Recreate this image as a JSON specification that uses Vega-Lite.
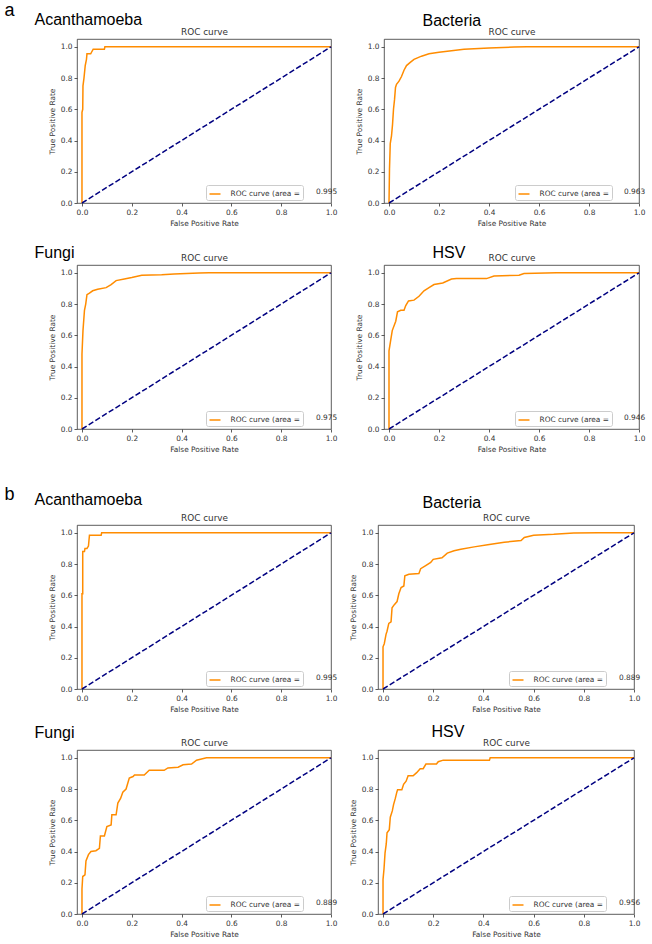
{
  "$schema": "https://vega.github.io/schema/vega-lite/v6.json",
  "padding": {"left": 3, "top": 0, "right": 0, "bottom": 0},
  "background": "white",
  "config": {
    "view": {"stroke": "#333", "strokeWidth": 0.8},
    "axis": {"grid": false, "domain": false, "labelFont": "DejaVu Sans", "labelFontSize": 7.4, "labelColor": "#333", "tickColor": "#333", "tickWidth": 0.8, "tickSize": 3, "labelPadding": 2, "titleFont": "DejaVu Sans", "titleFontSize": 7.4, "titleFontWeight": "normal", "titleColor": "#333", "titlePadding": 4, "labelFlush": false, "labelOverlap": false},
    "legend": {"symbolType": "stroke", "symbolSize": 121, "symbolStrokeWidth": 1.5, "labelFont": "DejaVu Sans", "labelFontSize": 7.4, "labelColor": "#333", "padding": 2.5, "strokeColor": "#ccc", "fillColor": "#fff", "cornerRadius": 2, "labelOffset": 9}
  },
  "datasets": {
    "chance": [{"fpr": 0, "tpr": 0}, {"fpr": 1, "tpr": 1}],
    "auc": [
      {"set": "a", "panel": "Acanthamoeba", "auc": 0.995},
      {"set": "a", "panel": "Bacteria", "auc": 0.963},
      {"set": "a", "panel": "Fungi", "auc": 0.975},
      {"set": "a", "panel": "HSV", "auc": 0.946},
      {"set": "b", "panel": "Acanthamoeba", "auc": 0.995},
      {"set": "b", "panel": "Bacteria", "auc": 0.889},
      {"set": "b", "panel": "Fungi", "auc": 0.889},
      {"set": "b", "panel": "HSV", "auc": 0.956}
    ],
    "aAcan": [{"fpr":0,"tpr":0},{"fpr":0,"tpr":0.58},{"fpr":0.003,"tpr":0.6},{"fpr":0.004,"tpr":0.75},{"fpr":0.008,"tpr":0.8},{"fpr":0.013,"tpr":0.88},{"fpr":0.018,"tpr":0.92},{"fpr":0.02,"tpr":0.955},{"fpr":0.035,"tpr":0.955},{"fpr":0.04,"tpr":0.97},{"fpr":0.045,"tpr":0.985},{"fpr":0.09,"tpr":0.985},{"fpr":0.092,"tpr":1},{"fpr":1,"tpr":1}],
    "aBact": [{"fpr":0,"tpr":0},{"fpr":0.002,"tpr":0.22},{"fpr":0.005,"tpr":0.38},{"fpr":0.01,"tpr":0.43},{"fpr":0.014,"tpr":0.5},{"fpr":0.018,"tpr":0.6},{"fpr":0.022,"tpr":0.66},{"fpr":0.026,"tpr":0.74},{"fpr":0.03,"tpr":0.76},{"fpr":0.04,"tpr":0.78},{"fpr":0.05,"tpr":0.81},{"fpr":0.06,"tpr":0.85},{"fpr":0.07,"tpr":0.88},{"fpr":0.085,"tpr":0.9},{"fpr":0.1,"tpr":0.92},{"fpr":0.13,"tpr":0.94},{"fpr":0.16,"tpr":0.955},{"fpr":0.2,"tpr":0.965},{"fpr":0.25,"tpr":0.975},{"fpr":0.3,"tpr":0.985},{"fpr":0.4,"tpr":0.993},{"fpr":0.5,"tpr":0.998},{"fpr":0.55,"tpr":1},{"fpr":1,"tpr":1}],
    "aFungi": [{"fpr":0,"tpr":0},{"fpr":0,"tpr":0.48},{"fpr":0.004,"tpr":0.63},{"fpr":0.01,"tpr":0.76},{"fpr":0.015,"tpr":0.8},{"fpr":0.02,"tpr":0.86},{"fpr":0.03,"tpr":0.87},{"fpr":0.043,"tpr":0.885},{"fpr":0.063,"tpr":0.895},{"fpr":0.097,"tpr":0.905},{"fpr":0.117,"tpr":0.925},{"fpr":0.137,"tpr":0.95},{"fpr":0.17,"tpr":0.96},{"fpr":0.2,"tpr":0.97},{"fpr":0.24,"tpr":0.985},{"fpr":0.32,"tpr":0.987},{"fpr":0.37,"tpr":0.992},{"fpr":0.47,"tpr":0.998},{"fpr":0.51,"tpr":1},{"fpr":1,"tpr":1}],
    "aHSV": [{"fpr":0,"tpr":0},{"fpr":0,"tpr":0.5},{"fpr":0.007,"tpr":0.57},{"fpr":0.013,"tpr":0.63},{"fpr":0.027,"tpr":0.69},{"fpr":0.034,"tpr":0.75},{"fpr":0.047,"tpr":0.76},{"fpr":0.06,"tpr":0.76},{"fpr":0.067,"tpr":0.79},{"fpr":0.078,"tpr":0.82},{"fpr":0.1,"tpr":0.825},{"fpr":0.12,"tpr":0.85},{"fpr":0.14,"tpr":0.885},{"fpr":0.16,"tpr":0.905},{"fpr":0.18,"tpr":0.925},{"fpr":0.215,"tpr":0.935},{"fpr":0.25,"tpr":0.96},{"fpr":0.27,"tpr":0.963},{"fpr":0.39,"tpr":0.963},{"fpr":0.42,"tpr":0.98},{"fpr":0.52,"tpr":0.985},{"fpr":0.54,"tpr":0.995},{"fpr":0.67,"tpr":1},{"fpr":1,"tpr":1}],
    "bAcan": [{"fpr":0,"tpr":0},{"fpr":0,"tpr":0.61},{"fpr":0.003,"tpr":0.61},{"fpr":0.003,"tpr":0.88},{"fpr":0.01,"tpr":0.88},{"fpr":0.012,"tpr":0.9},{"fpr":0.02,"tpr":0.9},{"fpr":0.026,"tpr":0.915},{"fpr":0.03,"tpr":0.985},{"fpr":0.077,"tpr":0.985},{"fpr":0.079,"tpr":1},{"fpr":1,"tpr":1}],
    "bBact": [{"fpr":0,"tpr":0},{"fpr":0,"tpr":0.27},{"fpr":0.005,"tpr":0.29},{"fpr":0.012,"tpr":0.35},{"fpr":0.016,"tpr":0.37},{"fpr":0.023,"tpr":0.42},{"fpr":0.032,"tpr":0.43},{"fpr":0.036,"tpr":0.52},{"fpr":0.045,"tpr":0.54},{"fpr":0.056,"tpr":0.56},{"fpr":0.063,"tpr":0.61},{"fpr":0.072,"tpr":0.65},{"fpr":0.083,"tpr":0.66},{"fpr":0.087,"tpr":0.725},{"fpr":0.103,"tpr":0.735},{"fpr":0.143,"tpr":0.74},{"fpr":0.15,"tpr":0.77},{"fpr":0.17,"tpr":0.79},{"fpr":0.19,"tpr":0.81},{"fpr":0.2,"tpr":0.83},{"fpr":0.235,"tpr":0.84},{"fpr":0.256,"tpr":0.87},{"fpr":0.283,"tpr":0.885},{"fpr":0.31,"tpr":0.895},{"fpr":0.363,"tpr":0.91},{"fpr":0.417,"tpr":0.923},{"fpr":0.483,"tpr":0.94},{"fpr":0.55,"tpr":0.95},{"fpr":0.563,"tpr":0.97},{"fpr":0.6,"tpr":0.985},{"fpr":0.68,"tpr":0.99},{"fpr":0.76,"tpr":0.998},{"fpr":0.857,"tpr":1},{"fpr":1,"tpr":1}],
    "bFungi": [{"fpr":0,"tpr":0},{"fpr":0,"tpr":0.16},{"fpr":0.003,"tpr":0.24},{"fpr":0.012,"tpr":0.25},{"fpr":0.016,"tpr":0.34},{"fpr":0.026,"tpr":0.38},{"fpr":0.036,"tpr":0.4},{"fpr":0.056,"tpr":0.405},{"fpr":0.07,"tpr":0.42},{"fpr":0.074,"tpr":0.5},{"fpr":0.09,"tpr":0.5},{"fpr":0.1,"tpr":0.56},{"fpr":0.117,"tpr":0.57},{"fpr":0.12,"tpr":0.635},{"fpr":0.137,"tpr":0.635},{"fpr":0.144,"tpr":0.71},{"fpr":0.155,"tpr":0.74},{"fpr":0.164,"tpr":0.78},{"fpr":0.177,"tpr":0.8},{"fpr":0.19,"tpr":0.87},{"fpr":0.205,"tpr":0.88},{"fpr":0.211,"tpr":0.89},{"fpr":0.25,"tpr":0.89},{"fpr":0.27,"tpr":0.92},{"fpr":0.33,"tpr":0.92},{"fpr":0.345,"tpr":0.935},{"fpr":0.386,"tpr":0.94},{"fpr":0.406,"tpr":0.955},{"fpr":0.44,"tpr":0.96},{"fpr":0.46,"tpr":0.985},{"fpr":0.5,"tpr":1},{"fpr":1,"tpr":1}],
    "bHSV": [{"fpr":0,"tpr":0},{"fpr":0,"tpr":0.22},{"fpr":0.004,"tpr":0.29},{"fpr":0.008,"tpr":0.39},{"fpr":0.013,"tpr":0.45},{"fpr":0.016,"tpr":0.52},{"fpr":0.025,"tpr":0.54},{"fpr":0.029,"tpr":0.62},{"fpr":0.037,"tpr":0.66},{"fpr":0.042,"tpr":0.7},{"fpr":0.049,"tpr":0.74},{"fpr":0.055,"tpr":0.78},{"fpr":0.058,"tpr":0.795},{"fpr":0.075,"tpr":0.795},{"fpr":0.082,"tpr":0.83},{"fpr":0.092,"tpr":0.85},{"fpr":0.1,"tpr":0.885},{"fpr":0.12,"tpr":0.885},{"fpr":0.134,"tpr":0.905},{"fpr":0.148,"tpr":0.93},{"fpr":0.16,"tpr":0.93},{"fpr":0.171,"tpr":0.96},{"fpr":0.213,"tpr":0.96},{"fpr":0.22,"tpr":0.975},{"fpr":0.24,"tpr":0.985},{"fpr":0.424,"tpr":0.985},{"fpr":0.427,"tpr":1},{"fpr":1,"tpr":1}]
  },
  "resolve": {"scale": {"color": "independent"}},
  "spacing": 30,
  "vconcat": [
    {
      "columns": 2,
      "spacing": {"row": 15, "column": 16},
      "resolve": {"scale": {"color": "independent"}},
      "concat": [
        {
          "width": 254, "height": 164,
          "layer": [
            {"data": {"name": "aAcan"}, "mark": {"type": "line", "strokeWidth": 1.5},
             "encoding": {
               "x": {"field": "fpr", "type": "quantitative", "scale": {"domain": [-0.02, 1], "nice": false, "zero": false}, "axis": {"orient": "bottom", "values": [0, 0.2, 0.4, 0.6, 0.8, 1], "format": ".1f", "title": "False Positive Rate"}},
               "y": {"field": "tpr", "type": "quantitative", "scale": {"domain": [0, 1.05], "nice": false, "zero": false}, "axis": {"orient": "left", "values": [0, 0.2, 0.4, 0.6, 0.8, 1], "format": ".1f", "title": "True Positive Rate"}},
               "color": {"datum": "ROC curve (area =", "type": "nominal", "scale": {"range": ["#ff8c00"]}, "legend": {"orient": "none", "legendX": 129, "legendY": 146, "title": null}}
             }},
            {"data": {"name": "chance"}, "mark": {"type": "line", "color": "#000080", "strokeWidth": 1.5, "strokeDash": [5.5, 2.4]},
             "encoding": {
               "x": {"field": "fpr", "type": "quantitative", "scale": {"domain": [-0.02, 1], "nice": false, "zero": false}, "axis": {"orient": "top", "labels": false, "ticks": false, "domain": false, "title": "ROC curve", "titleFontSize": 8.9, "titleX": 127, "titleY": -5, "titleAlign": "center", "titleBaseline": "alphabetic"}},
               "y": {"field": "tpr", "type": "quantitative", "scale": {"domain": [0, 1.05], "nice": false, "zero": false}, "axis": {"orient": "right", "labels": false, "ticks": false, "domain": false, "title": "Acanthamoeba", "titleFont": "Liberation Sans", "titleFontSize": 16, "titleColor": "#000", "titleAngle": 0, "titleAlign": "left", "titleBaseline": "alphabetic", "titleX": -297, "titleY": -15}}
             }},
            {"data": {"name": "auc"}, "transform": [{"filter": "datum.set === 'a' && datum.panel === 'Acanthamoeba'"}],
             "mark": {"type": "text", "align": "left", "baseline": "alphabetic", "font": "DejaVu Sans", "fontSize": 7.4, "color": "#333"},
             "encoding": {
               "x": {"datum": 0.94, "type": "quantitative", "scale": {"domain": [-0.02, 1], "nice": false, "zero": false}, "axis": {"orient": "top", "labels": false, "ticks": false, "domain": false, "title": "a", "titleFont": "Liberation Sans", "titleFontSize": 18, "titleColor": "#000", "titleAlign": "left", "titleBaseline": "alphabetic", "titleX": -73, "titleY": -24}},
               "y": {"datum": 0.06, "type": "quantitative", "scale": {"domain": [0, 1.05], "nice": false, "zero": false}, "axis": null},
               "text": {"field": "auc", "type": "quantitative", "format": ".3f"}
             }}
          ]
        },
        {
          "width": 255, "height": 164,
          "layer": [
            {"data": {"name": "aBact"}, "mark": {"type": "line", "strokeWidth": 1.5},
             "encoding": {
               "x": {"field": "fpr", "type": "quantitative", "scale": {"domain": [-0.02, 1], "nice": false, "zero": false}, "axis": {"orient": "bottom", "values": [0, 0.2, 0.4, 0.6, 0.8, 1], "format": ".1f", "title": "False Positive Rate"}},
               "y": {"field": "tpr", "type": "quantitative", "scale": {"domain": [0, 1.05], "nice": false, "zero": false}, "axis": {"orient": "left", "values": [0, 0.2, 0.4, 0.6, 0.8, 1], "format": ".1f", "title": "True Positive Rate"}},
               "color": {"datum": "ROC curve (area =", "type": "nominal", "scale": {"range": ["#ff8c00"]}, "legend": {"orient": "none", "legendX": 131, "legendY": 146, "title": null}}
             }},
            {"data": {"name": "chance"}, "mark": {"type": "line", "color": "#000080", "strokeWidth": 1.5, "strokeDash": [5.5, 2.4]},
             "encoding": {
               "x": {"field": "fpr", "type": "quantitative", "scale": {"domain": [-0.02, 1], "nice": false, "zero": false}, "axis": {"orient": "top", "labels": false, "ticks": false, "domain": false, "title": "ROC curve", "titleFontSize": 8.9, "titleX": 127.5, "titleY": -5, "titleAlign": "center", "titleBaseline": "alphabetic"}},
               "y": {"field": "tpr", "type": "quantitative", "scale": {"domain": [0, 1.05], "nice": false, "zero": false}, "axis": {"orient": "right", "labels": false, "ticks": false, "domain": false, "title": "Bacteria", "titleFont": "Liberation Sans", "titleFontSize": 16, "titleColor": "#000", "titleAngle": 0, "titleAlign": "left", "titleBaseline": "alphabetic", "titleX": -217, "titleY": -14}}
             }},
            {"data": {"name": "auc"}, "transform": [{"filter": "datum.set === 'a' && datum.panel === 'Bacteria'"}],
             "mark": {"type": "text", "align": "left", "baseline": "alphabetic", "font": "DejaVu Sans", "fontSize": 7.4, "color": "#333"},
             "encoding": {
               "x": {"datum": 0.94, "type": "quantitative", "scale": {"domain": [-0.02, 1], "nice": false, "zero": false}, "axis": null},
               "y": {"datum": 0.06, "type": "quantitative", "scale": {"domain": [0, 1.05], "nice": false, "zero": false}, "axis": null},
               "text": {"field": "auc", "type": "quantitative", "format": ".3f"}
             }}
          ]
        },
        {
          "width": 254, "height": 164,
          "layer": [
            {"data": {"name": "aFungi"}, "mark": {"type": "line", "strokeWidth": 1.5},
             "encoding": {
               "x": {"field": "fpr", "type": "quantitative", "scale": {"domain": [-0.02, 1], "nice": false, "zero": false}, "axis": {"orient": "bottom", "values": [0, 0.2, 0.4, 0.6, 0.8, 1], "format": ".1f", "title": "False Positive Rate"}},
               "y": {"field": "tpr", "type": "quantitative", "scale": {"domain": [0, 1.05], "nice": false, "zero": false}, "axis": {"orient": "left", "values": [0, 0.2, 0.4, 0.6, 0.8, 1], "format": ".1f", "title": "True Positive Rate"}},
               "color": {"datum": "ROC curve (area =", "type": "nominal", "scale": {"range": ["#ff8c00"]}, "legend": {"orient": "none", "legendX": 129, "legendY": 146, "title": null}}
             }},
            {"data": {"name": "chance"}, "mark": {"type": "line", "color": "#000080", "strokeWidth": 1.5, "strokeDash": [5.5, 2.4]},
             "encoding": {
               "x": {"field": "fpr", "type": "quantitative", "scale": {"domain": [-0.02, 1], "nice": false, "zero": false}, "axis": {"orient": "top", "labels": false, "ticks": false, "domain": false, "title": "ROC curve", "titleFontSize": 8.9, "titleX": 127, "titleY": -5, "titleAlign": "center", "titleBaseline": "alphabetic"}},
               "y": {"field": "tpr", "type": "quantitative", "scale": {"domain": [0, 1.05], "nice": false, "zero": false}, "axis": {"orient": "right", "labels": false, "ticks": false, "domain": false, "title": "Fungi", "titleFont": "Liberation Sans", "titleFontSize": 16, "titleColor": "#000", "titleAngle": 0, "titleAlign": "left", "titleBaseline": "alphabetic", "titleX": -297, "titleY": -8}}
             }},
            {"data": {"name": "auc"}, "transform": [{"filter": "datum.set === 'a' && datum.panel === 'Fungi'"}],
             "mark": {"type": "text", "align": "left", "baseline": "alphabetic", "font": "DejaVu Sans", "fontSize": 7.4, "color": "#333"},
             "encoding": {
               "x": {"datum": 0.94, "type": "quantitative", "scale": {"domain": [-0.02, 1], "nice": false, "zero": false}, "axis": null},
               "y": {"datum": 0.06, "type": "quantitative", "scale": {"domain": [0, 1.05], "nice": false, "zero": false}, "axis": null},
               "text": {"field": "auc", "type": "quantitative", "format": ".3f"}
             }}
          ]
        },
        {
          "width": 255, "height": 164,
          "layer": [
            {"data": {"name": "aHSV"}, "mark": {"type": "line", "strokeWidth": 1.5},
             "encoding": {
               "x": {"field": "fpr", "type": "quantitative", "scale": {"domain": [-0.02, 1], "nice": false, "zero": false}, "axis": {"orient": "bottom", "values": [0, 0.2, 0.4, 0.6, 0.8, 1], "format": ".1f", "title": "False Positive Rate"}},
               "y": {"field": "tpr", "type": "quantitative", "scale": {"domain": [0, 1.05], "nice": false, "zero": false}, "axis": {"orient": "left", "values": [0, 0.2, 0.4, 0.6, 0.8, 1], "format": ".1f", "title": "True Positive Rate"}},
               "color": {"datum": "ROC curve (area =", "type": "nominal", "scale": {"range": ["#ff8c00"]}, "legend": {"orient": "none", "legendX": 131, "legendY": 146, "title": null}}
             }},
            {"data": {"name": "chance"}, "mark": {"type": "line", "color": "#000080", "strokeWidth": 1.5, "strokeDash": [5.5, 2.4]},
             "encoding": {
               "x": {"field": "fpr", "type": "quantitative", "scale": {"domain": [-0.02, 1], "nice": false, "zero": false}, "axis": {"orient": "top", "labels": false, "ticks": false, "domain": false, "title": "ROC curve", "titleFontSize": 8.9, "titleX": 127.5, "titleY": -5, "titleAlign": "center", "titleBaseline": "alphabetic"}},
               "y": {"field": "tpr", "type": "quantitative", "scale": {"domain": [0, 1.05], "nice": false, "zero": false}, "axis": {"orient": "right", "labels": false, "ticks": false, "domain": false, "title": "HSV", "titleFont": "Liberation Sans", "titleFontSize": 16, "titleColor": "#000", "titleAngle": 0, "titleAlign": "left", "titleBaseline": "alphabetic", "titleX": -207, "titleY": -8}}
             }},
            {"data": {"name": "auc"}, "transform": [{"filter": "datum.set === 'a' && datum.panel === 'HSV'"}],
             "mark": {"type": "text", "align": "left", "baseline": "alphabetic", "font": "DejaVu Sans", "fontSize": 7.4, "color": "#333"},
             "encoding": {
               "x": {"datum": 0.94, "type": "quantitative", "scale": {"domain": [-0.02, 1], "nice": false, "zero": false}, "axis": null},
               "y": {"datum": 0.06, "type": "quantitative", "scale": {"domain": [0, 1.05], "nice": false, "zero": false}, "axis": null},
               "text": {"field": "auc", "type": "quantitative", "format": ".3f"}
             }}
          ]
        }
      ]
    },
    {
      "columns": 2,
      "spacing": {"row": 8, "column": 10},
      "resolve": {"scale": {"color": "independent"}},
      "concat": [
        {
          "width": 254, "height": 164,
          "layer": [
            {"data": {"name": "bAcan"}, "mark": {"type": "line", "strokeWidth": 1.5},
             "encoding": {
               "x": {"field": "fpr", "type": "quantitative", "scale": {"domain": [-0.02, 1], "nice": false, "zero": false}, "axis": {"orient": "bottom", "values": [0, 0.2, 0.4, 0.6, 0.8, 1], "format": ".1f", "title": "False Positive Rate"}},
               "y": {"field": "tpr", "type": "quantitative", "scale": {"domain": [0, 1.05], "nice": false, "zero": false}, "axis": {"orient": "left", "values": [0, 0.2, 0.4, 0.6, 0.8, 1], "format": ".1f", "title": "True Positive Rate"}},
               "color": {"datum": "ROC curve (area =", "type": "nominal", "scale": {"range": ["#ff8c00"]}, "legend": {"orient": "none", "legendX": 129, "legendY": 146, "title": null}}
             }},
            {"data": {"name": "chance"}, "mark": {"type": "line", "color": "#000080", "strokeWidth": 1.5, "strokeDash": [5.5, 2.4]},
             "encoding": {
               "x": {"field": "fpr", "type": "quantitative", "scale": {"domain": [-0.02, 1], "nice": false, "zero": false}, "axis": {"orient": "top", "labels": false, "ticks": false, "domain": false, "title": "ROC curve", "titleFontSize": 8.9, "titleX": 127, "titleY": -5, "titleAlign": "center", "titleBaseline": "alphabetic"}},
               "y": {"field": "tpr", "type": "quantitative", "scale": {"domain": [0, 1.05], "nice": false, "zero": false}, "axis": {"orient": "right", "labels": false, "ticks": false, "domain": false, "title": "Acanthamoeba", "titleFont": "Liberation Sans", "titleFontSize": 16, "titleColor": "#000", "titleAngle": 0, "titleAlign": "left", "titleBaseline": "alphabetic", "titleX": -297, "titleY": -21}}
             }},
            {"data": {"name": "auc"}, "transform": [{"filter": "datum.set === 'b' && datum.panel === 'Acanthamoeba'"}],
             "mark": {"type": "text", "align": "left", "baseline": "alphabetic", "font": "DejaVu Sans", "fontSize": 7.4, "color": "#333"},
             "encoding": {
               "x": {"datum": 0.94, "type": "quantitative", "scale": {"domain": [-0.02, 1], "nice": false, "zero": false}, "axis": {"orient": "top", "labels": false, "ticks": false, "domain": false, "title": "b", "titleFont": "Liberation Sans", "titleFontSize": 18, "titleColor": "#000", "titleAlign": "left", "titleBaseline": "alphabetic", "titleX": -73, "titleY": -26}},
               "y": {"datum": 0.06, "type": "quantitative", "scale": {"domain": [0, 1.05], "nice": false, "zero": false}, "axis": null},
               "text": {"field": "auc", "type": "quantitative", "format": ".3f"}
             }}
          ]
        },
        {
          "width": 256, "height": 164,
          "layer": [
            {"data": {"name": "bBact"}, "mark": {"type": "line", "strokeWidth": 1.5},
             "encoding": {
               "x": {"field": "fpr", "type": "quantitative", "scale": {"domain": [-0.02, 1], "nice": false, "zero": false}, "axis": {"orient": "bottom", "values": [0, 0.2, 0.4, 0.6, 0.8, 1], "format": ".1f", "title": "False Positive Rate"}},
               "y": {"field": "tpr", "type": "quantitative", "scale": {"domain": [0, 1.05], "nice": false, "zero": false}, "axis": {"orient": "left", "values": [0, 0.2, 0.4, 0.6, 0.8, 1], "format": ".1f", "title": "True Positive Rate"}},
               "color": {"datum": "ROC curve (area =", "type": "nominal", "scale": {"range": ["#ff8c00"]}, "legend": {"orient": "none", "legendX": 131, "legendY": 146, "title": null}}
             }},
            {"data": {"name": "chance"}, "mark": {"type": "line", "color": "#000080", "strokeWidth": 1.5, "strokeDash": [5.5, 2.4]},
             "encoding": {
               "x": {"field": "fpr", "type": "quantitative", "scale": {"domain": [-0.02, 1], "nice": false, "zero": false}, "axis": {"orient": "top", "labels": false, "ticks": false, "domain": false, "title": "ROC curve", "titleFontSize": 8.9, "titleX": 128, "titleY": -5, "titleAlign": "center", "titleBaseline": "alphabetic"}},
               "y": {"field": "tpr", "type": "quantitative", "scale": {"domain": [0, 1.05], "nice": false, "zero": false}, "axis": {"orient": "right", "labels": false, "ticks": false, "domain": false, "title": "Bacteria", "titleFont": "Liberation Sans", "titleFontSize": 16, "titleColor": "#000", "titleAngle": 0, "titleAlign": "left", "titleBaseline": "alphabetic", "titleX": -212, "titleY": -18}}
             }},
            {"data": {"name": "auc"}, "transform": [{"filter": "datum.set === 'b' && datum.panel === 'Bacteria'"}],
             "mark": {"type": "text", "align": "left", "baseline": "alphabetic", "font": "DejaVu Sans", "fontSize": 7.4, "color": "#333"},
             "encoding": {
               "x": {"datum": 0.94, "type": "quantitative", "scale": {"domain": [-0.02, 1], "nice": false, "zero": false}, "axis": null},
               "y": {"datum": 0.06, "type": "quantitative", "scale": {"domain": [0, 1.05], "nice": false, "zero": false}, "axis": null},
               "text": {"field": "auc", "type": "quantitative", "format": ".3f"}
             }}
          ]
        },
        {
          "width": 254, "height": 164,
          "layer": [
            {"data": {"name": "bFungi"}, "mark": {"type": "line", "strokeWidth": 1.5},
             "encoding": {
               "x": {"field": "fpr", "type": "quantitative", "scale": {"domain": [-0.02, 1], "nice": false, "zero": false}, "axis": {"orient": "bottom", "values": [0, 0.2, 0.4, 0.6, 0.8, 1], "format": ".1f", "title": "False Positive Rate"}},
               "y": {"field": "tpr", "type": "quantitative", "scale": {"domain": [0, 1.05], "nice": false, "zero": false}, "axis": {"orient": "left", "values": [0, 0.2, 0.4, 0.6, 0.8, 1], "format": ".1f", "title": "True Positive Rate"}},
               "color": {"datum": "ROC curve (area =", "type": "nominal", "scale": {"range": ["#ff8c00"]}, "legend": {"orient": "none", "legendX": 129, "legendY": 146, "title": null}}
             }},
            {"data": {"name": "chance"}, "mark": {"type": "line", "color": "#000080", "strokeWidth": 1.5, "strokeDash": [5.5, 2.4]},
             "encoding": {
               "x": {"field": "fpr", "type": "quantitative", "scale": {"domain": [-0.02, 1], "nice": false, "zero": false}, "axis": {"orient": "top", "labels": false, "ticks": false, "domain": false, "title": "ROC curve", "titleFontSize": 8.9, "titleX": 127, "titleY": -5, "titleAlign": "center", "titleBaseline": "alphabetic"}},
               "y": {"field": "tpr", "type": "quantitative", "scale": {"domain": [0, 1.05], "nice": false, "zero": false}, "axis": {"orient": "right", "labels": false, "ticks": false, "domain": false, "title": "Fungi", "titleFont": "Liberation Sans", "titleFontSize": 16, "titleColor": "#000", "titleAngle": 0, "titleAlign": "left", "titleBaseline": "alphabetic", "titleX": -297, "titleY": -13}}
             }},
            {"data": {"name": "auc"}, "transform": [{"filter": "datum.set === 'b' && datum.panel === 'Fungi'"}],
             "mark": {"type": "text", "align": "left", "baseline": "alphabetic", "font": "DejaVu Sans", "fontSize": 7.4, "color": "#333"},
             "encoding": {
               "x": {"datum": 0.94, "type": "quantitative", "scale": {"domain": [-0.02, 1], "nice": false, "zero": false}, "axis": null},
               "y": {"datum": 0.06, "type": "quantitative", "scale": {"domain": [0, 1.05], "nice": false, "zero": false}, "axis": null},
               "text": {"field": "auc", "type": "quantitative", "format": ".3f"}
             }}
          ]
        },
        {
          "width": 256, "height": 164,
          "layer": [
            {"data": {"name": "bHSV"}, "mark": {"type": "line", "strokeWidth": 1.5},
             "encoding": {
               "x": {"field": "fpr", "type": "quantitative", "scale": {"domain": [-0.02, 1], "nice": false, "zero": false}, "axis": {"orient": "bottom", "values": [0, 0.2, 0.4, 0.6, 0.8, 1], "format": ".1f", "title": "False Positive Rate"}},
               "y": {"field": "tpr", "type": "quantitative", "scale": {"domain": [0, 1.05], "nice": false, "zero": false}, "axis": {"orient": "left", "values": [0, 0.2, 0.4, 0.6, 0.8, 1], "format": ".1f", "title": "True Positive Rate"}},
               "color": {"datum": "ROC curve (area =", "type": "nominal", "scale": {"range": ["#ff8c00"]}, "legend": {"orient": "none", "legendX": 131, "legendY": 146, "title": null}}
             }},
            {"data": {"name": "chance"}, "mark": {"type": "line", "color": "#000080", "strokeWidth": 1.5, "strokeDash": [5.5, 2.4]},
             "encoding": {
               "x": {"field": "fpr", "type": "quantitative", "scale": {"domain": [-0.02, 1], "nice": false, "zero": false}, "axis": {"orient": "top", "labels": false, "ticks": false, "domain": false, "title": "ROC curve", "titleFontSize": 8.9, "titleX": 128, "titleY": -5, "titleAlign": "center", "titleBaseline": "alphabetic"}},
               "y": {"field": "tpr", "type": "quantitative", "scale": {"domain": [0, 1.05], "nice": false, "zero": false}, "axis": {"orient": "right", "labels": false, "ticks": false, "domain": false, "title": "HSV", "titleFont": "Liberation Sans", "titleFontSize": 16, "titleColor": "#000", "titleAngle": 0, "titleAlign": "left", "titleBaseline": "alphabetic", "titleX": -203, "titleY": -14}}
             }},
            {"data": {"name": "auc"}, "transform": [{"filter": "datum.set === 'b' && datum.panel === 'HSV'"}],
             "mark": {"type": "text", "align": "left", "baseline": "alphabetic", "font": "DejaVu Sans", "fontSize": 7.4, "color": "#333"},
             "encoding": {
               "x": {"datum": 0.94, "type": "quantitative", "scale": {"domain": [-0.02, 1], "nice": false, "zero": false}, "axis": null},
               "y": {"datum": 0.06, "type": "quantitative", "scale": {"domain": [0, 1.05], "nice": false, "zero": false}, "axis": null},
               "text": {"field": "auc", "type": "quantitative", "format": ".3f"}
             }}
          ]
        }
      ]
    }
  ]
}
